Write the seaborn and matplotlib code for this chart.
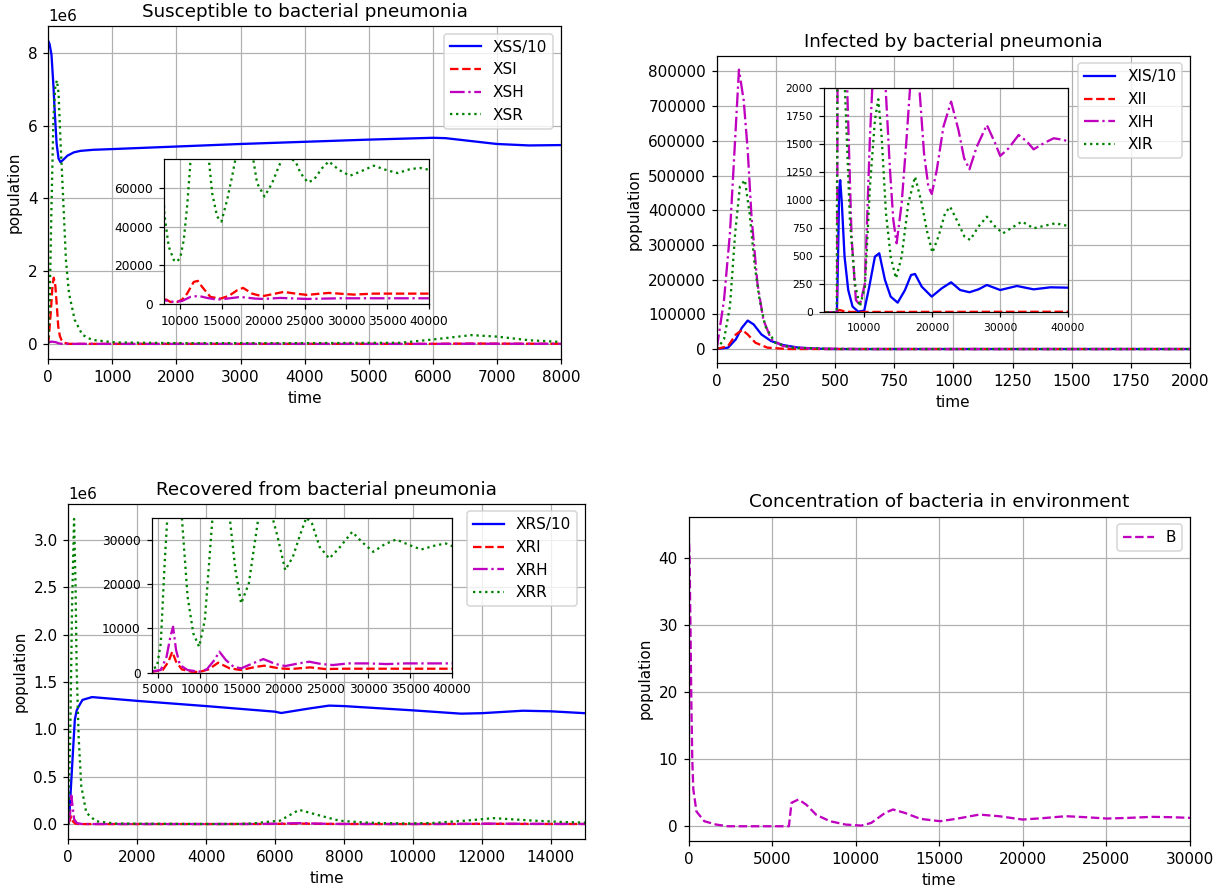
import matplotlib
matplotlib.use("Agg")
import matplotlib.pyplot as plt
import seaborn as sns
import numpy as np

# ---------------- Susceptible ----------------
xss_t = [0, 20, 50, 80, 100, 130, 160, 190, 230, 300, 400, 500, 700, 1000, 2000, 3000, 4000,
         5000, 6000, 6200, 6500, 7000, 7500, 8000, 10000, 20000, 40000]
xss = [83.3e6, 82.5e6, 79.5e6, 71e6, 64e6, 55e6, 51e6, 50e6, 50.6e6, 51.8e6, 52.7e6, 53.1e6, 53.4e6,
       53.6e6, 54.3e6, 55e6, 55.6e6, 56.2e6, 56.7e6, 56.6e6, 56e6, 55e6, 54.6e6, 54.7e6, 54.5e6,
       54.5e6, 54.5e6]

xsi_t = [0, 40, 65, 85, 110, 135, 155, 180, 205, 250, 320, 6000, 6300, 6600, 7000, 7500, 8067,
         8800, 9600, 10200, 10800, 11600, 12100, 12620, 13620, 14830, 15840, 16850, 17570, 18660,
         19870, 21070, 22480, 23900, 25300, 26900, 27920, 29730, 30940, 33360, 35770, 40000]
xsi = [0, 0.9e6, 1.6e6, 1.82e6, 1.6e6, 1.0e6, 0.48e6, 0.22e6, 0.11e6, 0.03e6, 0, 0, 6000, 9000,
       6500, 4200, 2930, 1200, 1200, 2400, 5500, 11500, 12070, 8960, 3800, 2930, 4310, 7240, 8450,
       5500, 4140, 5170, 6380, 5500, 4830, 5500, 5860, 5340, 5000, 5500, 5500, 5500]

xsh_t = [0, 60, 120, 160, 220, 6000, 6600, 7500, 8067, 9200, 10200, 11200, 12200, 13220, 14430,
         15640, 17250, 19060, 20070, 22080, 25300, 29330, 40000]
xsh = [50000, 60000, 45000, 15000, 0, 0, 4000, 2600, 2070, 1200, 1720, 3800, 4310, 3280, 2410,
       2930, 3790, 2930, 2760, 3280, 2760, 3100, 3100]

xsr_t = [0, 20, 50, 80, 110, 135, 160, 190, 233, 275, 322, 412, 531, 680, 1040, 2000, 4000, 5500,
         6000, 6600, 7000, 7500, 8067, 8590, 9200, 9600, 10000, 10400, 10800, 11200, 11400, 12400,
         13420, 13830, 14430, 14950, 15640, 16240, 16650, 17700, 18780, 19260, 20150, 21070, 21880,
         22280, 22900, 23900, 24500, 25380, 26110, 27120, 27920, 29130, 30460, 31750, 33360, 34970,
         36260, 37790, 39000, 40000]
xsr = [0, 1.0e6, 3.8e6, 6.2e6, 7.1e6, 7.25e6, 6.9e6, 5.6e6, 3.96e6, 2.31e6, 1.4e6, 0.66e6, 0.25e6,
       0.11e6, 0.04e6, 0.02e6, 0.02e6, 0.03e6, 0.12e6, 0.24e6, 0.2e6, 0.1e6, 46000, 29650, 22760,
       21900, 24500, 33100, 50300, 72800, 75000, 100000, 75000, 57200, 45200, 42600, 53800, 65900,
       75000, 85000, 75000, 62400, 55500, 62400, 71000, 74800, 76000, 73600, 67600, 62800, 64100,
       70200, 73600, 69300, 66200, 68400, 71400, 69000, 67600, 69700, 70200, 69300]

# ---------------- Infected ----------------
xis_t = [0, 48, 81, 106, 131, 156, 189, 230, 280, 346, 462, 5970, 6110, 6310, 6460, 6700, 7100,
         7640, 8280, 9110, 10000, 10740, 11570, 12210, 13050, 13890, 14920, 16000, 16890, 17480,
         18460, 19930, 21410, 22790, 24120, 25490, 26820, 28050, 30020, 32480, 34940, 37400, 40000]
xis = [0, 40000, 280000, 610000, 820000, 710000, 420000, 230000, 115000, 40000, 0, 0, 4000, 11000,
       11800, 9730, 4970, 1990, 510, 60, 150, 2290, 4970, 5270, 2890, 1400, 860, 1990, 3330, 3420,
       2290, 1400, 2140, 2680, 1990, 1790, 2050, 2440, 1990, 2350, 2050, 2230, 2200]

xii_t = [0, 48, 81, 108, 131, 164, 214, 300, 6000, 6100, 6400, 7000, 8000, 40000]
xii = [0, 8600, 42000, 55000, 42000, 18000, 4000, 0, 0, 15, 20, 10, 3, 5]

xih_t = [0, 31, 56, 73, 94, 114, 131, 147, 172, 197, 230, 280, 380, 600, 6000, 6100, 6400, 7000,
         7490, 8130, 8770, 9360, 10100, 10840, 11180, 12150, 13150, 13790, 14280, 14770, 15510,
         16250, 16740, 17430, 18120, 18800, 19440, 19940, 20680, 21660, 22790, 23870, 24710, 25490,
         26570, 28050, 29280, 30020, 31250, 32730, 33960, 34940, 36420, 37900, 39370, 40000]
xih = [0, 142000, 334000, 544000, 805000, 717000, 573000, 382000, 190000, 85000, 28000, 8600, 2000,
       0, 0, 3000, 7000, 4500, 2000, 676, 110, 65, 259, 1568, 2000, 2900, 2000, 1271, 824, 616, 973,
       1568, 2000, 2250, 2000, 1420, 1122, 1057, 1271, 1658, 1881, 1628, 1375, 1277, 1479, 1673,
       1509, 1396, 1464, 1583, 1524, 1455, 1509, 1554, 1539, 1524]

xir_t = [0, 31, 56, 78, 98, 119, 139, 161, 181, 205, 247, 313, 500, 5950, 6050, 6400, 7150, 7890,
         8620, 9360, 10100, 10840, 11570, 12070, 12560, 13200, 13890, 14670, 15510, 16490, 17480,
         18460, 19200, 20030, 20920, 21900, 22640, 23620, 24760, 25590, 26820, 28050, 29280, 30420,
         31990, 33220, 34940, 36420, 38140, 40000]
xir = [0, 28000, 123000, 334000, 468000, 487000, 391000, 238000, 143000, 66000, 18000, 4000, 0, 0,
       2500, 3500, 2000, 824, 259, 51, 229, 1122, 1717, 1902, 1568, 884, 497, 304, 497, 973, 1211,
       973, 735, 533, 676, 884, 943, 824, 676, 646, 765, 854, 765, 705, 765, 810, 750, 771, 795, 771]

# ---------------- Recovered ----------------
xrs_t = [0, 22, 78, 133, 189, 244, 300, 411, 688, 2000, 4000, 6000, 6180, 7000, 7570, 8000, 10000,
         11400, 12000, 13200, 14000, 15000, 20000, 40000]
xrs = [0, 0.3e6, 4e6, 7.5e6, 11e6, 12e6, 12.4e6, 13.1e6, 13.4e6, 13e6, 12.45e6, 11.86e6, 11.72e6,
       12.2e6, 12.5e6, 12.45e6, 12e6, 11.65e6, 11.7e6, 11.96e6, 11.9e6, 11.7e6, 11.8e6, 11.8e6]

xri_t = [0, 60, 90, 130, 200, 300, 4000, 5590, 6270, 6730, 7180, 7870, 9000, 9920, 11050, 12190,
         13560, 14920, 16740, 17660, 19480, 20840, 23110, 24930, 27200, 40000]
xri = [0, 60000, 80000, 30000, 5000, 0, 100, 600, 2480, 4740, 2480, 750, 230, 150, 750, 2260, 980,
       600, 1350, 1580, 980, 830, 1200, 830, 900, 900]

xrh_t = [0, 50, 90, 120, 170, 250, 400, 4000, 5360, 6050, 6500, 6820, 7180, 7640, 8550, 9920,
         10830, 11740, 12330, 13100, 14010, 14920, 16290, 17560, 19020, 20160, 21750, 23020, 24480,
         25840, 27660, 29940, 32220, 34490, 40000]
xrh = [0, 100000, 300000, 200000, 50000, 10000, 0, 230, 600, 3600, 8100, 10380, 5100, 1730, 600,
       230, 750, 2860, 4740, 2860, 1350, 980, 2100, 3080, 1950, 1500, 2100, 2480, 1950, 1730, 2100,
       2100, 1950, 2100, 2100]

xrr_t = [0, 55, 111, 167, 211, 244, 300, 377, 522, 800, 1354, 4000, 4910, 5360, 5820, 6140, 6700,
         7300, 7870, 8550, 9230, 9920, 10600, 11190, 11510, 12340, 13560, 14240, 14920, 15830,
         16520, 16970, 17700, 18650, 19250, 20160, 21070, 21980, 22670, 23340, 24250, 25390, 26530,
         28120, 29260, 30620, 31990, 33350, 34950, 36310, 38130, 39270, 40000]
xrr = [0, 0.92e6, 2.33e6, 3.22e6, 2.5e6, 1.62e6, 0.92e6, 0.4e6, 0.12e6, 0.03e6, 5000, 600, 1350,
       6600, 24660, 35000, 150000, 90000, 35000, 17140, 8870, 5860, 11880, 26900, 35000, 62000,
       35000, 23160, 15640, 20150, 29170, 35000, 42000, 35000, 30680, 23160, 26170, 31430, 35000,
       33680, 28420, 25790, 28050, 31800, 29550, 27290, 29020, 30080, 28800, 27820, 28800, 29170,
       28570]

# ---------------- Bacteria ----------------
b_t = [0, 60, 120, 165, 220, 282, 470, 940, 1650, 2350, 6000, 6160, 6580, 7050, 7640, 8460, 9400,
       10340, 10930, 11760, 12230, 12930, 13870, 15050, 15990, 17400, 18570, 19980, 21160, 22570,
       23750, 25040, 26330, 27740, 28920, 30000]
b = [44, 40, 28, 18.4, 10, 5.5, 2.2, 0.75, 0.25, 0, 0, 3.5, 4.0, 3.2, 1.7, 0.75, 0.25, 0.1, 0.5,
     2.0, 2.5, 2.0, 1.1, 0.75, 1.1, 1.74, 1.5, 1.0, 1.2, 1.5, 1.35, 1.15, 1.25, 1.4, 1.35, 1.25]

W, H, DPI = 1225, 890, 110


def box(l, r, t, bt):
    return [l / W, 1 - bt / H, (r - l) / W, (bt - t) / H]


def line(ax, t, v, color, ls, label=None):
    sns.lineplot(x=np.array(t, float), y=np.array(v, float), ax=ax, color=color,
                 linestyle=ls, linewidth=1.5, label=label)


fig = plt.figure(figsize=(W / DPI, H / DPI), dpi=DPI)

groups = [
    ("Susceptible to bacterial pneumonia", box(48.3, 561, 26, 359), (0, 8000),
     box(163.9, 428.8, 158.7, 304.3), (8000, 40000), (0, 75000), 8,
     [(xss_t, np.array(xss) / 10, 'b', '-', 'XSS/10'), (xsi_t, xsi, 'r', '--', 'XSI'),
      (xsh_t, xsh, 'm', '-.', 'XSH'), (xsr_t, xsr, 'g', ':', 'XSR')]),
    ("Infected by bacterial pneumonia", box(716.7, 1190, 55.7, 363), (0, 2000),
     box(823.5, 1068, 88.3, 312.3), (4000, 40000), (0, 2000), 7,
     [(xis_t, np.array(xis) / 10, 'b', '-', 'XIS/10'), (xii_t, xii, 'r', '--', 'XII'),
      (xih_t, xih, 'm', '-.', 'XIH'), (xir_t, xir, 'g', ':', 'XIR')]),
    ("Recovered from bacterial pneumonia", box(68.3, 585, 503.7, 839.3), (0, 15000),
     box(151.6, 452.1, 517.7, 672.7), (4270, 40000), (0, 35000), 8,
     [(xrs_t, np.array(xrs) / 10, 'b', '-', 'XRS/10'), (xri_t, xri, 'r', '--', 'XRI'),
      (xrh_t, xrh, 'm', '-.', 'XRH'), (xrr_t, xrr, 'g', ':', 'XRR')]),
]

for title, pos, xlim, ipos, ixlim, iylim, ifs, series in groups:
    ax = fig.add_axes(pos)
    for t, v, c, ls, lab in series:
        line(ax, t, v, c, ls, lab)
    ax.set_xlim(*xlim)
    ax.set_title(title, fontsize=12)
    ax.set_xlabel("time")
    ax.set_ylabel("population")
    ax.grid(True)
    ax.legend(loc="upper right")

    axi = fig.add_axes(ipos)
    for t, v, c, ls, lab in series:
        line(axi, t, v, c, ls)
    axi.set_xlim(*ixlim)
    axi.set_ylim(*iylim)
    axi.set_xlabel("")
    axi.set_ylabel("")
    axi.tick_params(labelsize=ifs)
    axi.grid(True)
    if axi.get_legend() is not None:
        axi.get_legend().remove()

ax4 = fig.add_axes(box(688.6, 1190, 516.5, 841))
line(ax4, b_t, b, 'm', '--', 'B')
ax4.set_xlim(0, 30000)
ax4.set_title("Concentration of bacteria in environment", fontsize=12)
ax4.set_xlabel("time")
ax4.set_ylabel("population")
ax4.grid(True)
ax4.legend(loc="upper right")

fig.savefig("out.png", dpi=DPI)
